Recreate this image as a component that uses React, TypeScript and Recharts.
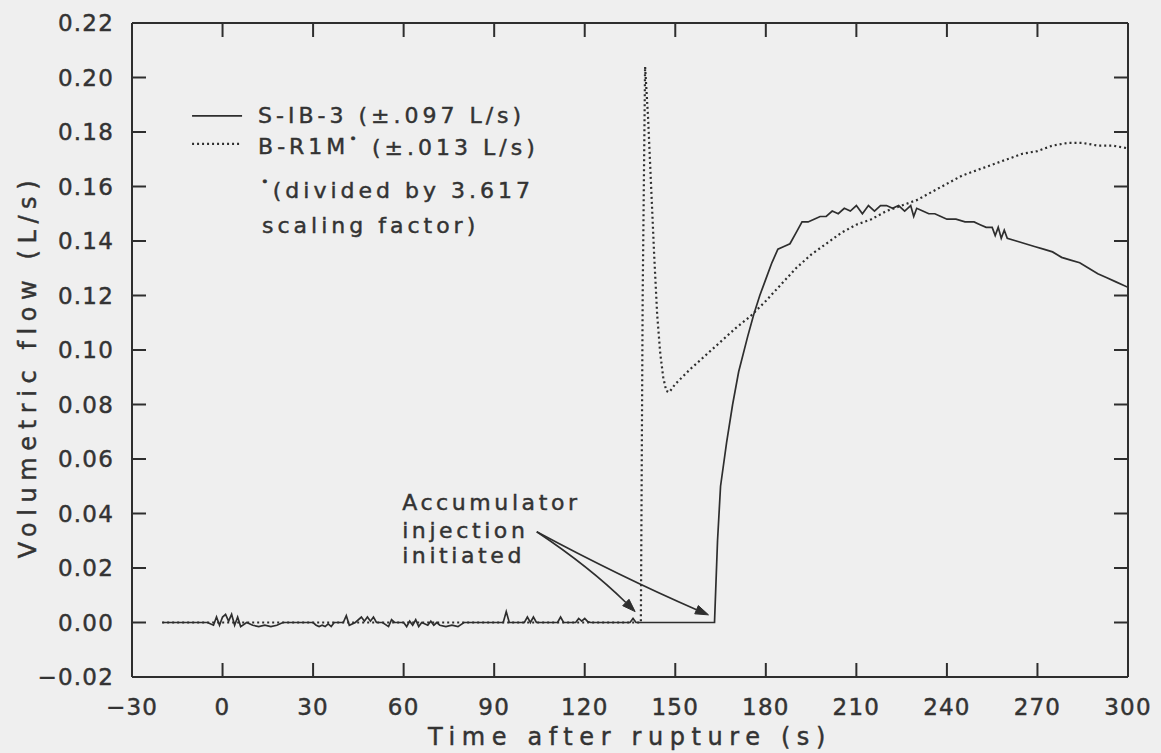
import React from 'react';
import { LineChart, Line, XAxis, YAxis, ReferenceDot, ReferenceLine, Label } from 'recharts';

// ---------- axes ----------
const X_DOMAIN: [number, number] = [-30, 300];
const Y_DOMAIN: [number, number] = [-0.02, 0.22];
const xTicks = [-30, 0, 30, 60, 90, 120, 150, 180, 210, 240, 270, 300];
const xTickLabels = ['\u221230', '0', '30', '60', '90', '120', '150', '180', '210', '240', '270', '300'];
const yTicks = [-0.02, 0, 0.02, 0.04, 0.06, 0.08, 0.1, 0.12, 0.14, 0.16, 0.18, 0.2, 0.22];
const yTickLabels = ['\u22120.02', '0.00', '0.02', '0.04', '0.06', '0.08', '0.10', '0.12', '0.14', '0.16', '0.18', '0.20', '0.22'];
const xTitle = 'Time after rupture (s)';
const yTitle = 'Volumetric flow (L/s)';

// ---------- series: S-IB-3 (solid) ----------
const sib3Time = [
  -20, -5, -3, -2, -1, 0, 1, 2, 3, 4,
  5, 6, 8, 10, 12, 14, 16, 18, 20, 30,
  31, 32, 33, 34, 35, 36, 37, 40, 41, 42,
  44, 46, 47, 48, 49, 50, 51, 53, 55, 56,
  57, 60, 61, 62, 63, 64, 65, 66, 68, 69,
  70, 71, 72, 74, 76, 78, 80, 93, 94, 95,
  100, 101, 102, 103, 104, 111, 112, 113, 117, 118,
  119, 120, 121, 122, 135, 136, 137, 163, 164, 165,
  167, 169, 171, 174, 176, 178, 180, 182, 184, 186,
  188, 190, 192, 194, 196, 198, 200, 202, 204, 206,
  208, 210, 212, 214, 216, 218, 220, 222, 224, 226,
  228, 229, 230, 232, 234, 236, 238, 240, 243, 246,
  249, 251, 253, 255, 256, 257, 258, 259, 260, 263,
  266, 269, 272, 275, 278, 281, 284, 287, 290, 293,
  296, 300,
];
const sib3Flow = [
  0, 0, -0.001, 0.002, -0.001, 0.002, 0.003, 0.0005, 0.003, -0.001,
  0.002, -0.0015, 0, -0.001, -0.0015, -0.001, -0.0015, -0.001, 0, 0,
  -0.001, -0.0015, -0.001, -0.0015, -0.0005, -0.0015, 0, 0, 0.0025, -0.001,
  0, 0.002, 0.0005, 0.002, 0.0005, 0.002, 0, 0, -0.0015, 0.001,
  0, 0, -0.0015, 0.0005, -0.001, 0.001, -0.0015, 0, -0.001, 0.0005,
  -0.001, 0, -0.001, -0.0015, -0.001, -0.0015, 0, 0, 0.004, 0,
  0, 0.002, 0, 0.002, 0, 0, 0.002, 0, 0, 0.0015,
  0.0005, 0.0015, 0.0003, 0, 0, 0.0015, 0, 0, 0.03, 0.05,
  0.066, 0.08, 0.092, 0.105, 0.113, 0.12, 0.126, 0.132, 0.137, 0.138,
  0.139, 0.143, 0.147, 0.147, 0.148, 0.149, 0.149, 0.151, 0.15, 0.152,
  0.151, 0.153, 0.15, 0.153, 0.151, 0.153, 0.153, 0.152, 0.153, 0.151,
  0.153, 0.149, 0.152, 0.151, 0.15, 0.15, 0.149, 0.148, 0.148, 0.147,
  0.147, 0.146, 0.145, 0.145, 0.142, 0.145, 0.141, 0.144, 0.141, 0.14,
  0.139, 0.138, 0.137, 0.136, 0.134, 0.133, 0.132, 0.13, 0.128, 0.1265,
  0.125, 0.123,
];

// ---------- series: B-R1M (dotted, divided by 3.617) ----------
const br1mTime = [
  -20, 138.6, 139.2, 140, 141, 142, 143, 144, 145, 146,
  147, 148, 150, 155, 160, 165, 170, 175, 180, 185,
  190, 195, 200, 205, 210, 215, 220, 225, 230, 235,
  240, 245, 250, 255, 260, 265, 270, 275, 280, 285,
  290, 295, 300,
];
const br1mFlow = [
  0, 0, 0.12, 0.204, 0.185, 0.16, 0.135, 0.113, 0.099, 0.09,
  0.085, 0.0845, 0.0875, 0.093, 0.098, 0.103, 0.108, 0.1125, 0.118, 0.124,
  0.13, 0.135, 0.139, 0.143, 0.146, 0.148, 0.151, 0.153, 0.155, 0.158,
  0.161, 0.164, 0.166, 0.168, 0.17, 0.172, 0.173, 0.175, 0.176, 0.176,
  0.175, 0.175, 0.174,
];

// ---------- legend / annotation text ----------
const legendSolid = 'S-IB-3 (\u00b1.097 L/s)';
const legendDottedName = 'B-R1M';
const legendDottedRest = ' (\u00b1.013 L/s)';
const footnote1 = '(divided by 3.617';
const footnote2 = 'scaling factor)';
const annotationLines = ['Accumulator', 'injection', 'initiated'];

// anchors (data coordinates)
const legendAnchor = { t: -10.1, v: 0.1859 };
const annotationAnchor = { t: 59.5, v: 0.0439 };
const arrowStart = { t: 104.1, v: 0.0333 };
const arrowEnds = [
  { t: 136.7, v: 0.004 },
  { t: 161.0, v: 0.0028 },
];

const sib3Data = sib3Time.map((t, i) => ({ t, v: sib3Flow[i] }));
const br1mData = br1mTime.map((t, i) => ({ t, v: br1mFlow[i] }));

// ---------- styling ----------
const INK = '#2e2e2e';
const TEXT = '#333333';
const FONT = '"DejaVu Sans", sans-serif';
const TICK_LEN = 14;
const heavy = { stroke: TEXT, strokeWidth: 0.45 };
const tickText: React.CSSProperties = { fontFamily: FONT, fontSize: 23, letterSpacing: 1.2, fill: TEXT, ...heavy };
const legendText: React.CSSProperties = { fontFamily: FONT, fontSize: 22, letterSpacing: 4, fill: TEXT, ...heavy };
const annText: React.CSSProperties = { fontFamily: FONT, fontSize: 22, letterSpacing: 3.6, fill: TEXT, ...heavy };
const titleText: React.CSSProperties = { fontFamily: FONT, fontSize: 24, letterSpacing: 6.6, fill: TEXT, ...heavy };

const inside = (v: number, d: [number, number]) => v > d[0] + 1e-9 && v < d[1] - 1e-9;
const findIdx = (arr: number[], v: number) => arr.findIndex((a) => Math.abs(a - v) < 1e-9);

function BottomTick(props: any) {
  const { x, y, payload } = props;
  const v = payload.value;
  return (
    <g>
      {inside(v, X_DOMAIN) && <line x1={x} y1={y} x2={x} y2={y - TICK_LEN} stroke={INK} strokeWidth={2} />}
      <text x={x} y={y + 30} textAnchor="middle" dominantBaseline="central" style={tickText}>
        {xTickLabels[findIdx(xTicks, v)]}
      </text>
    </g>
  );
}
function TopTick(props: any) {
  const { x, y, payload } = props;
  const v = payload.value;
  if (!inside(v, X_DOMAIN)) return <g />;
  return <line x1={x} y1={y} x2={x} y2={y + TICK_LEN} stroke={INK} strokeWidth={2} />;
}
function LeftTick(props: any) {
  const { x, y, payload } = props;
  const v = payload.value;
  return (
    <g>
      {inside(v, Y_DOMAIN) && <line x1={x} y1={y} x2={x + TICK_LEN} y2={y} stroke={INK} strokeWidth={2} />}
      <text x={x - 18} y={y} textAnchor="end" dominantBaseline="central" style={tickText}>
        {yTickLabels[findIdx(yTicks, v)]}
      </text>
    </g>
  );
}
function RightTick(props: any) {
  const { x, y, payload } = props;
  const v = payload.value;
  if (!inside(v, Y_DOMAIN)) return <g />;
  return <line x1={x} y1={y} x2={x - TICK_LEN} y2={y} stroke={INK} strokeWidth={2} />;
}

function XTitle(props: any) {
  const vb = props.viewBox || {};
  return (
    <text x={vb.x + vb.width / 2} y={vb.y + 60} textAnchor="middle" dominantBaseline="central" style={titleText}>
      {xTitle}
    </text>
  );
}
function YTitle(props: any) {
  const vb = props.viewBox || {};
  const cx = vb.x - 4;
  const cy = vb.y + vb.height / 2 + 16;
  return (
    <text x={cx} y={cy} textAnchor="middle" dominantBaseline="central" transform={`rotate(-90 ${cx} ${cy})`} style={titleText}>
      {yTitle}
    </text>
  );
}

function LegendShape(props: any) {
  const { cx, cy } = props;
  return (
    <g>
      <line x1={cx} y1={cy} x2={cx + 50} y2={cy} stroke={INK} strokeWidth={1.6} />
      <text x={cx + 66} y={cy} dominantBaseline="central" style={legendText}>{legendSolid}</text>
      <line x1={cx} y1={cy + 28} x2={cx + 50} y2={cy + 28} stroke={INK} strokeWidth={2.2} strokeDasharray="2 3" />
      <text x={cx + 66} y={cy + 31} dominantBaseline="central" style={legendText}>
        {legendDottedName}
        <tspan dy={-9} style={{ fontSize: 13 }}>{'\u2022'}</tspan>
        <tspan dy={9}>{legendDottedRest}</tspan>
      </text>
      <text x={cx + 69} y={cy + 74} dominantBaseline="central" style={legendText}>
        <tspan dy={-9} style={{ fontSize: 13 }}>{'\u2022'}</tspan>
        <tspan dy={9}>{footnote1}</tspan>
      </text>
      <text x={cx + 70} y={cy + 110} dominantBaseline="central" style={legendText}>{footnote2}</text>
    </g>
  );
}

function AnnotationShape(props: any) {
  const { cx, cy } = props;
  return (
    <g>
      {annotationLines.map((s, i) => (
        <text key={s} x={cx} y={cy + [0, 28, 53][i]} dominantBaseline="central" style={annText}>{s}</text>
      ))}
    </g>
  );
}

const makeArrow = (bow: number) => (props: any) => {
  const { x1, y1, x2, y2 } = props;
  const dx = x2 - x1;
  const dy = y2 - y1;
  const len = Math.sqrt(dx * dx + dy * dy) || 1;
  const ux = dx / len;
  const uy = dy / len;
  const mx = (x1 + x2) / 2 - uy * bow;
  const my = (y1 + y2) / 2 + ux * bow;
  let tx = x2 - mx;
  let ty = y2 - my;
  const tl = Math.sqrt(tx * tx + ty * ty) || 1;
  tx /= tl;
  ty /= tl;
  const hl = 13;
  const hw = 4.5;
  const bx = x2 - tx * hl;
  const by = y2 - ty * hl;
  const head = `M${x2},${y2} L${bx - ty * hw},${by + tx * hw} L${bx + ty * hw},${by - tx * hw} Z`;
  return (
    <g>
      <path d={`M${x1},${y1} Q${mx},${my} ${bx},${by}`} fill="none" stroke={INK} strokeWidth={1.6} />
      <path d={head} fill={INK} stroke={INK} strokeWidth={1} />
    </g>
  );
};
const arrowShapes = [makeArrow(-6), makeArrow(4)];

export default function App() {
  return (
    <div style={{ position: 'absolute', left: 0, top: 0, width: 1161, height: 753, background: '#efefef', overflow: 'hidden' }}>
      <LineChart width={1161} height={753} margin={{ top: 22, right: 32, bottom: 0, left: 32 }}>
        <XAxis
          xAxisId="b"
          dataKey="t"
          type="number"
          domain={X_DOMAIN}
          ticks={xTicks}
          interval={0}
          height={76}
          tickSize={0}
          tickMargin={0}
          tickLine={false}
          axisLine={{ stroke: INK, strokeWidth: 2 }}
          tick={BottomTick}
          allowDataOverflow
        >
          <Label content={XTitle} />
        </XAxis>
        <XAxis
          xAxisId="top"
          orientation="top"
          dataKey="t"
          type="number"
          domain={X_DOMAIN}
          ticks={xTicks}
          interval={0}
          height={1}
          tickSize={0}
          tickMargin={0}
          tickLine={false}
          axisLine={{ stroke: INK, strokeWidth: 2 }}
          tick={TopTick}
          allowDataOverflow
        />
        <YAxis
          yAxisId="l"
          type="number"
          domain={Y_DOMAIN}
          ticks={yTicks}
          interval={0}
          width={100}
          tickSize={0}
          tickMargin={0}
          tickLine={false}
          axisLine={{ stroke: INK, strokeWidth: 2 }}
          tick={LeftTick}
          allowDataOverflow
        >
          <Label content={YTitle} />
        </YAxis>
        <YAxis
          yAxisId="r"
          orientation="right"
          type="number"
          domain={Y_DOMAIN}
          ticks={yTicks}
          interval={0}
          width={1}
          tickSize={0}
          tickMargin={0}
          tickLine={false}
          axisLine={{ stroke: INK, strokeWidth: 2 }}
          tick={RightTick}
          allowDataOverflow
        />
        <Line
          xAxisId="b"
          yAxisId="l"
          data={br1mData}
          dataKey="v"
          type="linear"
          stroke={INK}
          strokeWidth={2.2}
          strokeDasharray="2 3"
          dot={false}
          activeDot={false}
          isAnimationActive={false}
        />
        <Line
          xAxisId="b"
          yAxisId="l"
          data={sib3Data}
          dataKey="v"
          type="linear"
          stroke={INK}
          strokeWidth={1.7}
          dot={false}
          activeDot={false}
          isAnimationActive={false}
        />
        <ReferenceDot
          xAxisId="b"
          yAxisId="l"
          x={legendAnchor.t}
          y={legendAnchor.v}
          r={0}
          ifOverflow="visible"
          shape={LegendShape}
        />
        <ReferenceDot
          xAxisId="b"
          yAxisId="l"
          x={annotationAnchor.t}
          y={annotationAnchor.v}
          r={0}
          ifOverflow="visible"
          shape={AnnotationShape}
        />
        {arrowEnds.map((e, i) => (
          <ReferenceLine
            key={i}
            xAxisId="b"
            yAxisId="l"
            segment={[{ x: arrowStart.t, y: arrowStart.v }, { x: e.t, y: e.v }]}
            ifOverflow="visible"
            shape={arrowShapes[i]}
          />
        ))}
      </LineChart>
    </div>
  );
}
